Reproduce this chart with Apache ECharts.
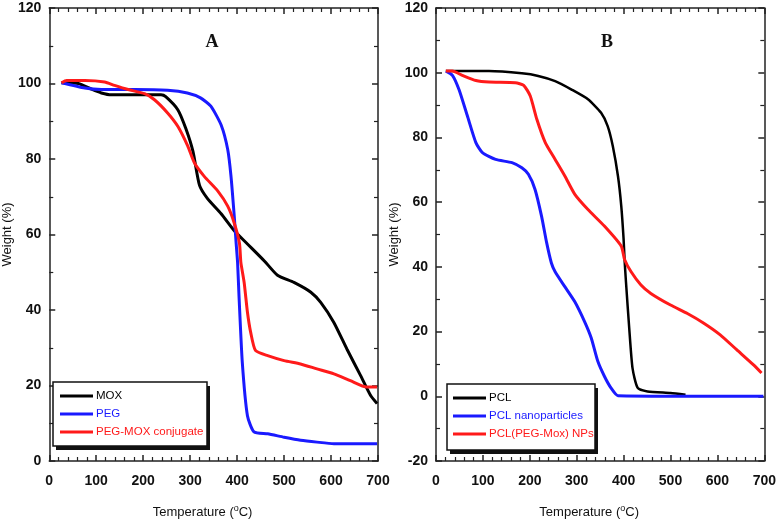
<!DOCTYPE html>
<html>
<head>
<meta charset="utf-8">
<script src="https://cdn.jsdelivr.net/npm/echarts@6/dist/echarts.min.js"></script>
<style>
  html, body { margin: 0; padding: 0; background: #fff; }
  #chart { width: 779px; height: 524px; }
</style>
</head>
<body>
<div id="chart"></div>
<script>
// panel A: [temperature, weight %]
let moxA = [[26,100.2],[62,100],[90,98.5],[111,97.5],[132,97],[238,97],[248,96.5],[274,93],[291,88],[306,82],[320,73],[337,69.5],[366,65.5],[394,61],[422,57.5],[458,53],[486,49.2],[521,47.3],[557,44.7],[578,42],[606,36.7],[634,29.6],[663,22.6],[684,17.4],[698,15.2]];
let pegA = [[26,100.2],[76,98.8],[111,98.4],[182,98.4],[252,98.2],[294,97.5],[322,96.2],[344,94],[366,89],[380,82.5],[387,75.4],[394,64.7],[398,57.6],[401,52.6],[404,43.8],[411,26.2],[422,12],[436,7.7],[465,7.2],[500,6.3],[535,5.5],[570,5],[606,4.6],[698,4.6]];
let pegMoxA = [[26,100.2],[37,100.8],[76,100.8],[118,100.4],[139,99.5],[168,98.4],[203,97.3],[224,95.7],[252,92.2],[274,88.6],[295,83.4],[309,79],[330,75.4],[359,71.5],[380,67.5],[394,63],[405,57.7],[408,52.6],[415,47.3],[422,39.4],[429,34],[439,29.3],[465,27.9],[500,26.6],[535,25.7],[570,24.4],[606,23.1],[641,21.3],[676,19.6],[698,19.6]];

// panel B
let pclB = [[21,100.5],[113,100.5],[183,99.8],[218,99],[254,97.4],[289,94.8],[324,91.8],[352,87.6],[366,83.5],[377,77.3],[388,68],[395,58.8],[400,48.5],[402,42.3],[405,35.4],[412,21],[419,8.7],[430,2.6],[451,1.5],[500,1],[532,0.5]];
let pclNanoB = [[21,100.5],[35,99.2],[49,94.8],[67,86.6],[85,78.4],[99,75.3],[127,73.2],[162,72.2],[183,70.6],[197,68.6],[211,64],[225,55.7],[236,47.4],[246,41.2],[254,38.5],[275,33.8],[296,29.2],[317,23],[331,18],[345,10.8],[359,6.2],[373,2.6],[388,0.2],[698,0]];
let pclPegB = [[21,100.5],[35,100.5],[56,99.2],[85,97.6],[113,97.1],[169,96.9],[187,96.1],[201,92.8],[215,85.6],[233,78.4],[254,73.2],[275,68],[296,62.4],[324,57.7],[359,52.6],[395,46.4],[402,42.3],[416,38.5],[437,34.4],[458,31.8],[500,28.2],[536,25.6],[571,22.6],[606,19],[641,14.4],[677,9.7],[694,7.2]];

let namesA = ['MOX', 'PEG', 'PEG-MOX conjugate'];
let namesB = ['PCL', 'PCL nanoparticles', 'PCL(PEG-Mox) NPs'];
let colors = ['#000000', '#1a1aff', '#ff1a1a'];

let font = '"Liberation Sans", Arial, sans-serif';
let chart = echarts.init(document.getElementById('chart'));

let frameAxis = function (type, pos, grid, min, max, interval, minorSplit, labels, name, nameGap) {
  let ax = {
    type: 'value',
    gridIndex: grid,
    position: pos,
    min: min,
    max: max,
    interval: interval,
    axisLine: { show: true, onZero: false, lineStyle: { color: '#222', width: 1.5 } },
    axisTick: { show: true, inside: true, length: 6, lineStyle: { color: '#222', width: 1.5 } },
    minorTick: { show: true, splitNumber: minorSplit, length: 4, lineStyle: { color: '#222', width: 1.2 } },
    splitLine: { show: false },
    axisLabel: { show: labels, color: '#111', fontSize: 14, fontWeight: 'bold', fontFamily: font, margin: type === 'x' ? 13 : 8 }
  };
  if (name) {
    ax.name = name;
    ax.nameLocation = 'middle';
    ax.nameGap = nameGap;
    ax.nameTextStyle = {
      color: '#111', fontSize: 13, fontFamily: font,
      padding: type === 'x' ? [0, 22, 0, 0] : 0,
      rich: { sup: { fontSize: 9, verticalAlign: 'top', color: '#111', fontFamily: font, padding: [0, 0, 8, 0] } }
    };
  }
  return ax;
};

let xName = 'Temperature ({sup|o}C)';

let mkSeries = function (name, data, color, xi, yi, width) {
  return {
    name: name,
    type: 'line',
    xAxisIndex: xi,
    yAxisIndex: yi,
    data: data,
    symbol: 'none',
    smooth: 0.2,
    lineStyle: { color: color, width: width },
    itemStyle: { color: color },
    z: 2
  };
};

let mkLegend = function (names, left, top) {
  return {
    orient: 'vertical',
    left: left,
    top: top,
    data: names.map(function (n, i) { return { name: n, textStyle: { color: colors[i] } }; }),
    icon: 'rect',
    itemWidth: 33,
    itemHeight: 3,
    itemGap: 4,
    padding: [7, 0, 0, 7],
    textStyle: { fontSize: 11.5, lineHeight: 14, fontFamily: font, padding: [0, 0, 0, -2] },
    z: 4,
    selectedMode: false
  };
};

// legend frame with hard drop shadow
let legendBox = function (x, y, w, h) {
  return [
    { type: 'rect', z: 3, shape: { x: x + 3, y: y + 4, width: w, height: h }, style: { fill: '#111' } },
    { type: 'rect', z: 3, shape: { x: x, y: y, width: w, height: h }, style: { fill: '#fff', stroke: '#111', lineWidth: 1.5 } }
  ];
};

chart.setOption({
  backgroundColor: '#fff',
  animation: false,
  title: [
    { text: 'A', left: 207, top: 28, textAlign: 'center',
      textStyle: { fontFamily: '"Liberation Serif", "Times New Roman", serif', fontWeight: 'bold', fontSize: 18, color: '#111' } },
    { text: 'B', left: 602, top: 28, textAlign: 'center',
      textStyle: { fontFamily: '"Liberation Serif", "Times New Roman", serif', fontWeight: 'bold', fontSize: 18, color: '#111' } }
  ],
  grid: [
    { left: 48, top: 8, width: 330, height: 454 },
    { left: 436, top: 8, width: 331, height: 454 }
  ],
  xAxis: [
    frameAxis('x', 'bottom', 0, 0, 700, 100, 5, true, xName, 43),
    frameAxis('x', 'top', 0, 0, 700, 100, 5, false),
    frameAxis('x', 'bottom', 1, 0, 700, 100, 5, true, xName, 43),
    frameAxis('x', 'top', 1, 0, 700, 100, 5, false)
  ],
  yAxis: [
    frameAxis('y', 'left', 0, 0, 120, 20, 2, true, 'Weight (%)', 31),
    frameAxis('y', 'right', 0, 0, 120, 20, 2, false),
    frameAxis('y', 'left', 1, -20, 120, 20, 2, true, 'Weight (%)', 29),
    frameAxis('y', 'right', 1, -20, 120, 20, 2, false)
  ],
  graphic: legendBox(53, 382, 154, 64).concat(legendBox(447, 384, 148, 66)),
  legend: [
    mkLegend(namesA, 53, 382),
    mkLegend(namesB, 446, 384)
  ],
  series: [
    mkSeries(namesA[0], moxA, colors[0], 0, 0, 3),
    mkSeries(namesA[1], pegA, colors[1], 0, 0, 3),
    mkSeries(namesA[2], pegMoxA, colors[2], 0, 0, 3),
    mkSeries(namesB[0], pclB, colors[0], 2, 2, 2.5),
    mkSeries(namesB[1], pclNanoB, colors[1], 2, 2, 3),
    mkSeries(namesB[2], pclPegB, colors[2], 2, 2, 3)
  ]
});
</script>
</body>
</html>
